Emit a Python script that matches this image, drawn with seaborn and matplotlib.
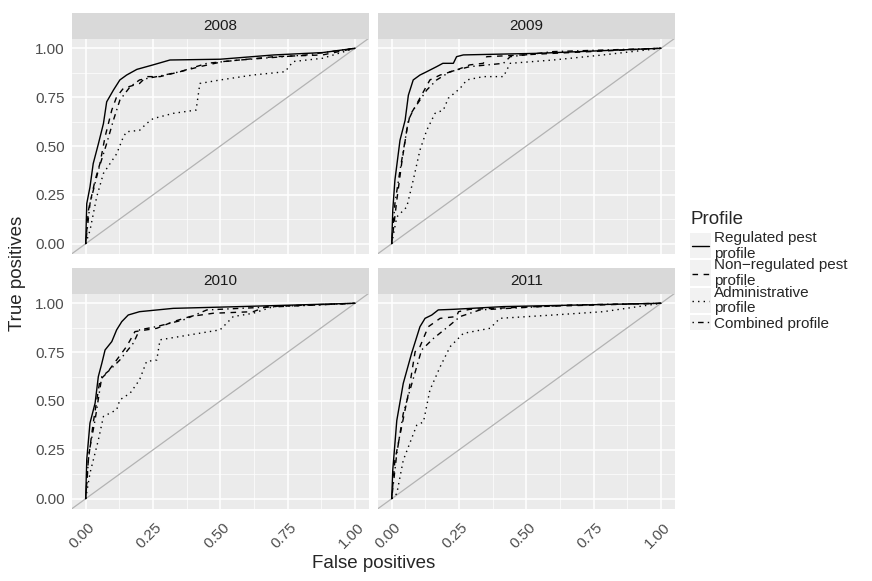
"""
plot.py
-------
ROC curves of the four inspection profiles, one panel per year,
drawn in the ggplot grey-panel look.
"""

import matplotlib
matplotlib.use("Agg")
import matplotlib.pyplot as plt
import matplotlib.transforms as mtrans
from matplotlib.patches import Rectangle
from matplotlib.ticker  import MultipleLocator
import pandas as pd
import seaborn as sns

# ── Data ──────────────────────────────────────────────────────────────────────
YEARS    = ["2008", "2009", "2010", "2011"]
PROFILES = ["Regulated pest profile", "Non-regulated pest profile",
            "Administrative profile", "Combined profile"]
LEGEND_LABELS = ["Regulated pest\nprofile", "Non\u2212regulated pest\nprofile",
                 "Administrative\nprofile", "Combined profile"]
TICKS       = [0.0, 0.25, 0.5, 0.75, 1.0]
TICK_LABELS = ["0.00", "0.25", "0.50", "0.75", "1.00"]

# 2008
FPR_2008_REG = [0, 0.004, 0.016, 0.028, 0.047, 0.066, 0.078, 0.103, 0.127, 0.152, 0.19, 0.25, 0.313, 0.5, 0.7, 0.88, 1]
TPR_2008_REG = [0, 0.205, 0.29, 0.41, 0.51, 0.615, 0.726, 0.786, 0.838, 0.863, 0.892, 0.915, 0.94, 0.944, 0.966, 0.978, 1]
FPR_2008_NON = [0, 0.01, 0.035, 0.053, 0.072, 0.097, 0.115, 0.14, 0.2, 0.226, 0.276, 0.35, 0.424, 0.51, 0.7, 0.88, 1]
TPR_2008_NON = [0, 0.17, 0.325, 0.41, 0.547, 0.684, 0.752, 0.795, 0.82, 0.855, 0.855, 0.88, 0.906, 0.932, 0.957, 0.966, 1]
FPR_2008_ADM = [0, 0.016, 0.041, 0.066, 0.115, 0.14, 0.152, 0.2, 0.226, 0.25, 0.325, 0.41, 0.424, 0.5, 0.62, 0.74, 0.77, 0.88, 1]
TPR_2008_ADM = [0, 0.068, 0.24, 0.36, 0.46, 0.547, 0.573, 0.58, 0.615, 0.64, 0.667, 0.684, 0.82, 0.838, 0.863, 0.88, 0.932, 0.949, 1]
FPR_2008_COM = [0, 0.016, 0.047, 0.078, 0.103, 0.127, 0.165, 0.2, 0.264, 0.35, 0.45, 0.573, 0.82, 1]
TPR_2008_COM = [0, 0.205, 0.376, 0.513, 0.632, 0.735, 0.803, 0.838, 0.855, 0.88, 0.923, 0.94, 0.966, 1]

# 2009
FPR_2009_REG = [0, 0.004, 0.012, 0.031, 0.05, 0.062, 0.08, 0.105, 0.13, 0.167, 0.19, 0.229, 0.241, 0.266, 0.54, 0.786, 1]
TPR_2009_REG = [0, 0.17, 0.325, 0.53, 0.632, 0.76, 0.838, 0.863, 0.88, 0.906, 0.923, 0.923, 0.957, 0.966, 0.974, 0.988, 1]
FPR_2009_NON = [0, 0.019, 0.037, 0.056, 0.068, 0.087, 0.118, 0.142, 0.18, 0.241, 0.29, 0.34, 0.353, 0.415, 0.6, 1]
TPR_2009_NON = [0, 0.222, 0.41, 0.58, 0.658, 0.7, 0.778, 0.838, 0.863, 0.889, 0.915, 0.923, 0.957, 0.961, 0.974, 1]
FPR_2009_ADM = [0, 0.019, 0.056, 0.08, 0.105, 0.13, 0.161, 0.192, 0.21, 0.254, 0.279, 0.34, 0.415, 0.44, 0.6, 0.786, 1]
TPR_2009_ADM = [0, 0.137, 0.188, 0.325, 0.479, 0.58, 0.667, 0.684, 0.744, 0.795, 0.838, 0.855, 0.855, 0.923, 0.94, 0.966, 1]
FPR_2009_COM = [0, 0.012, 0.031, 0.05, 0.062, 0.08, 0.105, 0.13, 0.167, 0.217, 0.29, 0.415, 0.44, 0.6, 1]
TPR_2009_COM = [0, 0.205, 0.376, 0.53, 0.632, 0.684, 0.735, 0.786, 0.838, 0.88, 0.906, 0.923, 0.957, 0.983, 1]

# 2010
FPR_2010_REG = [0, 0.004, 0.016, 0.035, 0.047, 0.06, 0.072, 0.097, 0.115, 0.134, 0.158, 0.2, 0.325, 0.573, 1]
TPR_2010_REG = [0, 0.2, 0.387, 0.489, 0.625, 0.693, 0.761, 0.804, 0.864, 0.906, 0.94, 0.957, 0.974, 0.983, 1]
FPR_2010_NON = [0, 0.01, 0.028, 0.053, 0.078, 0.115, 0.152, 0.183, 0.264, 0.325, 0.387, 0.474, 0.622, 0.672, 1]
TPR_2010_NON = [0, 0.2, 0.387, 0.608, 0.642, 0.71, 0.779, 0.855, 0.872, 0.906, 0.932, 0.949, 0.957, 0.983, 1]
FPR_2010_ADM = [0, 0.016, 0.047, 0.066, 0.115, 0.127, 0.165, 0.2, 0.226, 0.264, 0.276, 0.35, 0.499, 0.548, 0.622, 0.697, 1]
TPR_2010_ADM = [0, 0.131, 0.3, 0.421, 0.455, 0.506, 0.54, 0.608, 0.702, 0.71, 0.813, 0.83, 0.864, 0.932, 0.949, 0.983, 1]
FPR_2010_COM = [0, 0.012, 0.035, 0.06, 0.09, 0.127, 0.177, 0.2, 0.264, 0.363, 0.45, 0.573, 1]
TPR_2010_COM = [0, 0.233, 0.404, 0.625, 0.659, 0.71, 0.796, 0.864, 0.881, 0.915, 0.966, 0.974, 1]

# 2011
FPR_2011_REG = [0, 0.004, 0.019, 0.043, 0.074, 0.105, 0.124, 0.149, 0.173, 0.229, 0.415, 1]
TPR_2011_REG = [0, 0.145, 0.4, 0.59, 0.744, 0.88, 0.923, 0.94, 0.966, 0.969, 0.983, 1]
FPR_2011_NON = [0, 0.012, 0.037, 0.062, 0.087, 0.105, 0.136, 0.18, 0.241, 0.248, 0.29, 0.538, 1]
TPR_2011_NON = [0, 0.197, 0.368, 0.538, 0.752, 0.778, 0.88, 0.923, 0.932, 0.957, 0.969, 0.983, 1]
FPR_2011_ADM = [0, 0.019, 0.043, 0.093, 0.118, 0.142, 0.18, 0.217, 0.266, 0.365, 0.402, 0.6, 0.786, 1]
TPR_2011_ADM = [0, 0.026, 0.197, 0.376, 0.393, 0.556, 0.675, 0.778, 0.846, 0.872, 0.923, 0.94, 0.957, 1]
FPR_2011_COM = [0, 0.019, 0.043, 0.068, 0.111, 0.155, 0.217, 0.254, 0.328, 0.662, 1]
TPR_2011_COM = [0, 0.231, 0.436, 0.556, 0.761, 0.82, 0.889, 0.932, 0.966, 0.991, 1]

CURVES = {
    "2008": [(FPR_2008_REG, TPR_2008_REG), (FPR_2008_NON, TPR_2008_NON),
             (FPR_2008_ADM, TPR_2008_ADM), (FPR_2008_COM, TPR_2008_COM)],
    "2009": [(FPR_2009_REG, TPR_2009_REG), (FPR_2009_NON, TPR_2009_NON),
             (FPR_2009_ADM, TPR_2009_ADM), (FPR_2009_COM, TPR_2009_COM)],
    "2010": [(FPR_2010_REG, TPR_2010_REG), (FPR_2010_NON, TPR_2010_NON),
             (FPR_2010_ADM, TPR_2010_ADM), (FPR_2010_COM, TPR_2010_COM)],
    "2011": [(FPR_2011_REG, TPR_2011_REG), (FPR_2011_NON, TPR_2011_NON),
             (FPR_2011_ADM, TPR_2011_ADM), (FPR_2011_COM, TPR_2011_COM)],
}

# ── Styles ────────────────────────────────────────────────────────────────────
DASHES = {
    PROFILES[0]: "",
    PROFILES[1]: (4, 4),
    PROFILES[2]: (1, 3),
    PROFILES[3]: (1, 3, 4, 3),
}
PANEL_BG  = "#EBEBEB"
STRIP_BG  = "#D9D9D9"
TICK_TXT  = "#4D4D4D"
LINE_W    = 1.0
FONT      = ["Liberation Sans", "DejaVu Sans"]
SMALL     = 11
LARGE     = 13.5

W, H = 872, 581


def frac(x0, y0, x1, y1):
    """pixel box (top-left origin) -> figure fraction rect"""
    return [x0 / W, 1 - y1 / H, (x1 - x0) / W, (y1 - y0) / H]


# ── Build long table ──────────────────────────────────────────────────────────
rows = []
for year in YEARS:
    for prof, (fpr, tpr) in zip(PROFILES, CURVES[year]):
        for f, t in zip(fpr, tpr):
            rows.append({"Year": year, "Profile": prof,
                         "False positives": f, "True positives": t})
df = pd.DataFrame(rows)

# ── Figure ────────────────────────────────────────────────────────────────────
sns.set_theme(style="darkgrid")
plt.rcParams["font.family"] = FONT

fig = plt.figure(figsize=(W / 100, H / 100), dpi=100)
fig.patch.set_facecolor("white")

COLS = [(72.2, 368.5), (378.2, 674.5)]
ROWS = [(38.5, 253.5), (293.5, 508.5)]
STRIP_H = 25.5

# shift for the rotated x labels (ggplot puts them a bit right / lower)
label_shift = mtrans.ScaledTranslation(2 / 100, -4 / 100, fig.dpi_scale_trans)

for i, year in enumerate(YEARS):
    r, c = divmod(i, 2)
    x0, x1 = COLS[c]
    y0, y1 = ROWS[r]

    ax = fig.add_axes(frac(x0, y0, x1, y1))
    ax.set_facecolor(PANEL_BG)
    for s in ax.spines.values():
        s.set_visible(False)

    ax.axline((0, 0), (1, 1), color="#B3B3B3", lw=0.9, zorder=2)
    sns.lineplot(
        data      = df[df["Year"] == year],
        x         = "False positives",
        y         = "True positives",
        style     = "Profile",
        style_order = PROFILES,
        dashes    = DASHES,
        color     = "black",
        linewidth = LINE_W,
        estimator = None,
        sort      = False,
        legend    = False,
        ax        = ax,
        zorder    = 3,
    )

    ax.set_xlim(-0.05, 1.05)
    ax.set_ylim(-0.05, 1.05)
    ax.set_xticks(TICKS)
    ax.set_yticks(TICKS)
    ax.xaxis.set_minor_locator(MultipleLocator(0.125))
    ax.yaxis.set_minor_locator(MultipleLocator(0.125))
    ax.grid(which="major", color="white", lw=1.1)
    ax.grid(which="minor", color="white", lw=0.5)
    ax.set_axisbelow(True)
    ax.set_xlabel("")
    ax.set_ylabel("")
    ax.tick_params(which="minor", length=0)
    ax.tick_params(which="major", length=3.5, width=0.8, color="#333333",
                   labelcolor=TICK_TXT, labelsize=SMALL, pad=2)

    if r == 1:
        ax.set_xticklabels(TICK_LABELS)
        for lab in ax.get_xticklabels():
            lab.set_rotation(45)
            lab.set_ha("right")
            lab.set_va("top")
            lab.set_rotation_mode("anchor")
            lab.set_transform(lab.get_transform() + label_shift)
    else:
        ax.tick_params(axis="x", length=0, labelbottom=False)
    if c == 0:
        ax.set_yticklabels(TICK_LABELS)
    else:
        ax.tick_params(axis="y", length=0, labelleft=False)

    # facet strip
    sax = fig.add_axes(frac(x0, y0 - STRIP_H, x1, y0))
    sax.set_facecolor(STRIP_BG)
    sax.set_xticks([])
    sax.set_yticks([])
    for s in sax.spines.values():
        s.set_visible(False)
    sax.text(0.5, 0.5, year, ha="center", va="center", fontsize=SMALL,
             color="#1A1A1A", transform=sax.transAxes)

# axis titles
fig.text(374 / W, 1 - 563 / H, "False positives", ha="center", va="center",
         fontsize=LARGE)
fig.text(18 / W, 1 - 273 / H, "True positives", ha="center", va="center",
         rotation=90, fontsize=LARGE)

# ── Legend (drawn in pixel coords) ────────────────────────────────────────────
lax = fig.add_axes(frac(680, 200, 872, 340))
lax.set_xlim(680, 872)
lax.set_ylim(340, 200)
lax.axis("off")

lax.text(690, 220, "Profile", ha="left", va="center", fontsize=LARGE)
KEY_BOX  = [(233, 259), (260, 287), (288, 314), (315, 331)]
KEY_LINE = [245.5, 273.5, 300.5, 322]
TEXT_Y   = [246, 273, 300.5, 324]
for prof, lab, (b0, b1), ly, ty in zip(PROFILES, LEGEND_LABELS,
                                       KEY_BOX, KEY_LINE, TEXT_Y):
    lax.add_patch(Rectangle((690, b0), 21, b1 - b0 - 1,
                            facecolor="#F2F2F2", edgecolor="none"))
    dash = DASHES[prof]
    ls = "-" if dash == "" else (0, dash)
    lax.plot([692, 709], [ly, ly], color="black", lw=LINE_W, linestyle=ls)
    lax.text(714, ty, lab, ha="left", va="center", fontsize=SMALL,
             linespacing=1.1)

fig.savefig("out.png", dpi=100)
print("saved out.png")
